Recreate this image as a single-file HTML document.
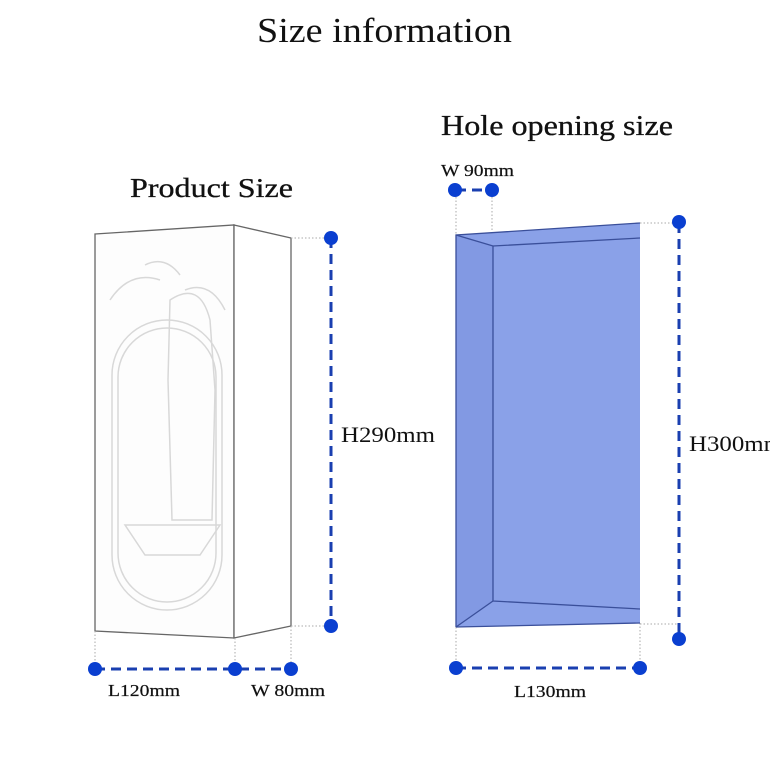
<!DOCTYPE html>
<html><head><meta charset="utf-8"><style>html,body{margin:0;padding:0;background:#fff}svg{display:block}</style></head><body>
<svg width="770" height="772" viewBox="0 0 770 772" xmlns="http://www.w3.org/2000/svg" font-family="Liberation Serif, serif">
<rect width="770" height="772" fill="#fff"/>
<text x="257" y="42" font-size="35" fill="#111" textLength="255" lengthAdjust="spacingAndGlyphs">Size information</text>
<text x="441" y="135" font-size="28" fill="#111" stroke="#111" stroke-width="0.3" textLength="232" lengthAdjust="spacingAndGlyphs">Hole opening size</text>
<text x="130" y="197" font-size="27" fill="#111" stroke="#111" stroke-width="0.3" textLength="163" lengthAdjust="spacingAndGlyphs">Product Size</text>

<g fill="none" stroke="#666" stroke-width="1.3">
<polygon points="95,234 234,225 234,638 95,631" fill="#fdfdfd"/>
<polygon points="234,225 291,238 291,626 234,638" fill="#fff"/>
</g>
<g fill="none" stroke="#d8d8d8" stroke-width="1.5">
<rect x="112" y="320" width="110" height="290" rx="55"/>
<rect x="118" y="328" width="98" height="274" rx="49"/>
<path d="M170 300 q30 -20 40 20 l5 70 l-3 130 h-40 l-4 -140 z"/>
<path d="M125 525 h95 l-20 30 h-55 z"/>
<path d="M145 265 q20 -10 35 10"/>
<path d="M110 300 q20 -30 50 -20 M185 290 q25 -10 40 20"/>
</g>
<g stroke="#aaa" stroke-width="1" stroke-dasharray="1.5,2">
<line x1="291" y1="238" x2="331" y2="238"/><line x1="291" y1="626" x2="331" y2="626"/>
<line x1="95" y1="631" x2="95" y2="669"/><line x1="235" y1="638" x2="235" y2="669"/><line x1="291" y1="626" x2="291" y2="669"/>
<line x1="456" y1="190" x2="456" y2="235"/><line x1="492" y1="190" x2="492" y2="246"/>
<line x1="640" y1="223" x2="679" y2="223"/><line x1="640" y1="624" x2="679" y2="624"/>
<line x1="456" y1="627" x2="456" y2="668"/><line x1="640" y1="623" x2="640" y2="668"/>
</g>
<g stroke="#1a3fb0" stroke-width="3" stroke-dasharray="10,6">
<line x1="331" y1="238" x2="331" y2="626"/>
<line x1="95" y1="669" x2="291" y2="669"/>
<line x1="456" y1="190" x2="492" y2="190"/>
<line x1="679" y1="223" x2="679" y2="638"/>
<line x1="456" y1="668" x2="640" y2="668"/>
</g>
<g fill="#0a3fd0">
<circle cx="331" cy="238" r="7"/><circle cx="331" cy="626" r="7"/>
<circle cx="95" cy="669" r="7"/><circle cx="235" cy="669" r="7"/><circle cx="291" cy="669" r="7"/>
<circle cx="455" cy="190" r="7"/><circle cx="492" cy="190" r="7"/>
<circle cx="679" cy="222" r="7"/><circle cx="679" cy="639" r="7"/>
<circle cx="456" cy="668" r="7"/><circle cx="640" cy="668" r="7"/>
</g>
<polygon points="456,235 640,223 640,623 456,627" fill="#8aa1e8"/>
<polygon points="456,235 493,246 493,601 456,627" fill="#8299e3"/>
<g fill="none" stroke="#3a4f9a" stroke-width="1.3">
<polyline points="456,627 456,235 640,223"/>
<polyline points="456,235 493,246 640,238"/>
<polyline points="493,246 493,601 640,609"/>
<polyline points="456,627 493,601"/>
<polyline points="456,627 640,623"/>
</g>
<g font-size="17" fill="#111" stroke="#111" stroke-width="0.2">
<text x="108" y="696" textLength="72" lengthAdjust="spacingAndGlyphs">L120mm</text>
<text x="251" y="696" textLength="74" lengthAdjust="spacingAndGlyphs">W 80mm</text>
<text x="441" y="176" textLength="73" lengthAdjust="spacingAndGlyphs">W 90mm</text>
<text x="514" y="697" textLength="72" lengthAdjust="spacingAndGlyphs">L130mm</text>
</g>
<g font-size="22" fill="#111">
<text x="341" y="442" textLength="94" lengthAdjust="spacingAndGlyphs">H290mm</text>
<text x="689" y="451" textLength="94" lengthAdjust="spacingAndGlyphs">H300mm</text>
</g>
</svg>
</body></html>
